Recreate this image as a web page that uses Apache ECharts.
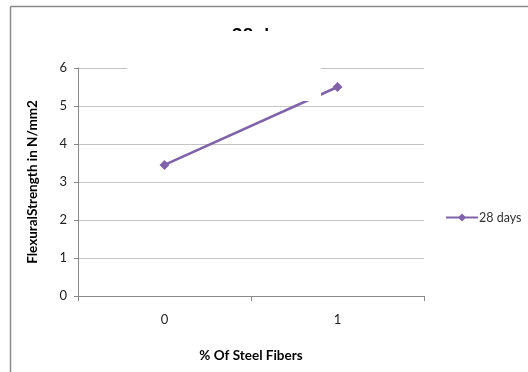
<!DOCTYPE html>
<html>
<head>
<meta charset="utf-8">
<script src="https://cdn.jsdelivr.net/npm/echarts@6/dist/echarts.min.js"></script>
<style>
  html, body { margin: 0; padding: 0; background: #fff; }
  #chart { width: 528px; height: 372px; }
</style>
</head>
<body>
<div id="chart"></div>
<script>
// Flexural strength at 28 days against steel fibre content
const categories = ['0', '1'];
const strength28 = [3.45, 5.5];
const seriesName = '28 days';

const chart = echarts.init(document.getElementById('chart'), null, { renderer: 'canvas' });
const font = 'Lato, "Open Sans", sans-serif';

chart.setOption({
  animation: false,
  backgroundColor: '#fff',
  title: {
    text: '28 days',
    left: 'center',
    top: 21,
    textStyle: { fontFamily: font, fontSize: 19, fontWeight: 'bold', color: '#000' }
  },
  grid: { left: 78, right: 104, top: 68, bottom: 76 },
  legend: {
    data: [seriesName],
    orient: 'vertical',
    left: 440,
    top: 206,
    itemWidth: 32,
    itemHeight: 10,
    itemGap: 3,
    textStyle: { fontFamily: font, fontSize: 12.5, color: '#333', padding: [0, 0, 0, -4] }
  },
  xAxis: {
    type: 'category',
    data: categories,
    boundaryGap: true,
    name: '% Of Steel Fibers',
    nameLocation: 'middle',
    nameGap: 53,
    nameTextStyle: { fontFamily: font, fontSize: 13.5, fontWeight: 'bold', color: '#000' },
    axisLine: { lineStyle: { color: '#888', width: 1 } },
    axisTick: { show: true, length: 5, lineStyle: { color: '#888' } },
    axisLabel: { fontFamily: font, fontSize: 13, color: '#222', margin: 17 },
    splitLine: { show: false }
  },
  yAxis: {
    type: 'value',
    min: 0,
    max: 6,
    interval: 1,
    name: 'FlexuralStrength in N/mm2',
    nameLocation: 'middle',
    nameGap: 38,
    nameTextStyle: { fontFamily: font, fontSize: 13.5, fontWeight: 'bold', color: '#000' },
    axisLine: { show: true, lineStyle: { color: '#888', width: 1 } },
    axisTick: { show: true, length: 4, lineStyle: { color: '#888' } },
    axisLabel: { fontFamily: font, fontSize: 13, color: '#222', margin: 11 },
    splitLine: { show: true, lineStyle: { color: '#c4c4c4', width: 1 } }
  },
  series: [{
    name: seriesName,
    type: 'line',
    data: strength28,
    symbol: 'diamond',
    symbolSize: 10,
    itemStyle: { color: '#7f62a8' },
    lineStyle: { color: '#7f62a8', width: 2.5 }
  }],
  graphic: [
    // chart frame (top and left edges)
    { type: 'line', z: 1, shape: { x1: 10.5, y1: 6.5, x2: 528, y2: 6.5 }, style: { stroke: '#8a8a8a', lineWidth: 1.5 } },
    { type: 'line', z: 1, shape: { x1: 10.5, y1: 6.5, x2: 10.5, y2: 372 }, style: { stroke: '#8a8a8a', lineWidth: 1.5 } },
    // blank panel lying over the title area
    { type: 'rect', z: 100, shape: { x: 127, y: 31, width: 194, height: 70 }, style: { fill: '#fff' } }
  ]
});
</script>
</body>
</html>
